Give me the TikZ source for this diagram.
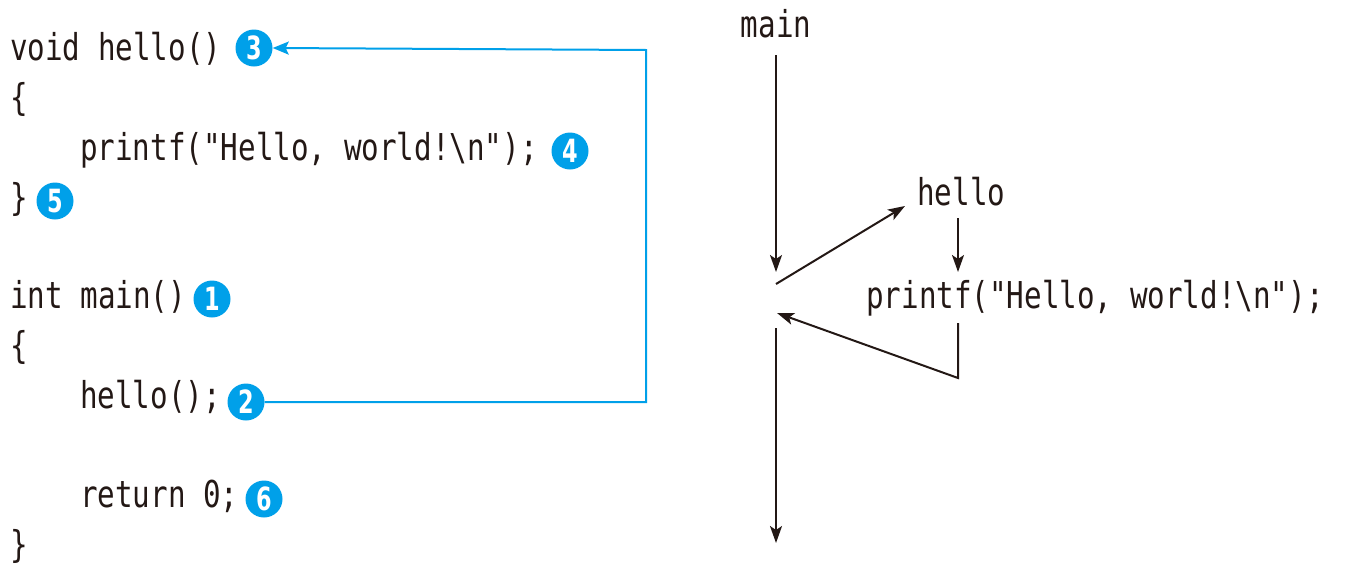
\documentclass[tikz,border=0pt]{standalone}
\usepackage{fontspec}
\usetikzlibrary{arrows.meta}
\newfontfamily\codefont[FakeStretch=0.79]{DejaVu Sans Mono}
\newfontfamily\numfont[FakeStretch=0.7]{DejaVu Sans}
\definecolor{ink}{RGB}{35,24,21}
\definecolor{cblue}{RGB}{0,160,233}
\tikzset{
  code/.style={anchor=base west, inner sep=0pt, text=ink, font=\codefont\fontsize{37}{44}\selectfont},
  num/.style={circle, fill=cblue, text=white, inner sep=0pt, minimum size=37pt, font=\numfont\bfseries\fontsize{32}{32}\selectfont},
  flow/.style={draw=ink, line width=2pt, -{Stealth[length=17pt,width=12pt,inset=4pt]}},
  link/.style={draw=cblue, line width=2pt, -{Stealth[length=16pt,width=13pt,inset=3pt]}}
}
\begin{document}
\begin{tikzpicture}[x=1pt,y=-1pt]
\useasboundingbox (0,0) rectangle (1351,576);
% code listing
\node[code] (l1) at (10,60) {void hello()};
\node[code] (l2) at (10,110) {\{};
\node[code] (l3) at (80,160) {printf("Hello, world!\textbackslash n");};
\node[code] (l4) at (10,210) {\}};
\node[code] (l5) at (10,308) {int main()};
\node[code] (l6) at (10,358) {\{};
\node[code] (l7) at (80,408) {hello();};
\node[code] (l8) at (80,507) {return 0;};
\node[code] (l9) at (10,557) {\}};
% numbers
\node[num] (n1) at (212,299) {1};
\node[num] (n2) at (246,402) {2};
\node[num] (n3) at (254,48) {3};
\node[num] (n4) at (570,151) {4};
\node[num] (n5) at (55,201) {5};
\node[num] (n6) at (264,499) {6};
% blue link
\coordinate (b1) at (646,402);
\coordinate (b2) at (646,50);
\draw[link] (n2.east) -- (b1) -- (b2) -- (n3.east);
% right flow
\node[code, anchor=base] (main) at (776,37) {main};
\node[code] (hello) at (917,205) {hello};
\node[code] (printf) at (866,308) {printf("Hello, world!\textbackslash n");};
\coordinate (m1) at (776,55);
\coordinate (m2) at (776,272);
\coordinate (d1) at (776,284);
\coordinate (d2) at (905,206);
\coordinate (h1) at (958,218);
\coordinate (h2) at (958,272);
\coordinate (p1) at (958,323);
\coordinate (p2) at (958,378);
\coordinate (r1) at (777,313);
\coordinate (e1) at (776,328);
\coordinate (e2) at (776,543);
\draw[flow] (m1) -- (m2);
\draw[flow] (d1) -- (d2);
\draw[flow] (h1) -- (h2);
\draw[flow] (p1) -- (p2) -- (r1);
\draw[flow] (e1) -- (e2);
\end{tikzpicture}
\end{document}
